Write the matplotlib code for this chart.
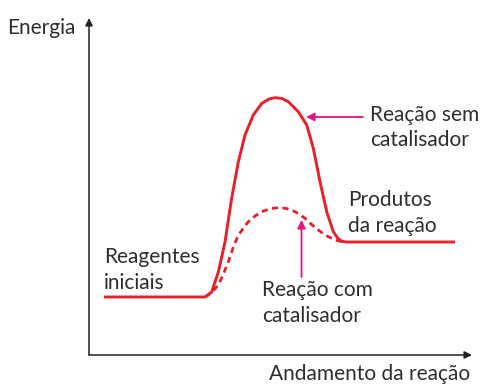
import matplotlib.pyplot as plt

plt.rcParams["font.family"] = ["Lato", "DejaVu Sans"]

# reaction progress vs energy (axis units, origin at the axes corner)
x_sem = [15, 116, 122.7, 129.3, 136, 142.7, 149.3, 156, 164.3, 172.7, 180, 186,
         193, 199.3, 209.3, 217.7, 224.3, 231, 237.7, 244.3, 249, 252.7, 257, 366]
e_sem = [58, 58, 63, 83, 113, 157, 193, 220, 240, 251.5, 256, 257.3,
         256.5, 253.3, 243.3, 230, 206.7, 173.3, 143.3, 123.3, 116.5, 113.8, 113, 113]

x_com = [116, 119.3, 124, 129.3, 134, 139.3, 144, 149.3, 159.3, 166, 172.7, 181,
         189.3, 196, 202.7, 209, 216, 222, 229.3, 236, 242.7, 248, 254]
e_com = [58, 60, 64, 70, 80, 93.3, 107, 120, 133.3, 139, 143.3, 146.3,
         147.3, 146.8, 145, 141.5, 136.7, 131, 125, 120, 116.7, 114.5, 113]

red = "#e8202a"
pink = "#e5157f"

fig = plt.figure(figsize=(4.81, 3.84), dpi=100)
ax = fig.add_axes([89 / 481, 29 / 384, 383 / 481, 337 / 384])
ax.set_xlim(0, 383)
ax.set_ylim(0, 337)
ax.axis("off")

ax.plot(x_sem, e_sem, color=red, lw=2.1, solid_capstyle="butt",
        solid_joinstyle="round", zorder=3)
ax.plot(x_com, e_com, color=red, lw=2.0, ls=(0, (2.2, 1.6)), zorder=2)

# axes arrows
ax.annotate("", xy=(0, 1), xytext=(0, 0), xycoords="axes fraction",
            arrowprops=dict(arrowstyle="-|>", color="#222222", lw=1.1,
                            mutation_scale=11, shrinkA=0, shrinkB=0))
ax.annotate("", xy=(1, 0), xytext=(0, 0), xycoords="axes fraction",
            arrowprops=dict(arrowstyle="-|>", color="#222222", lw=1.1,
                            mutation_scale=11, shrinkA=0, shrinkB=0))

fs = 15
tc = "#2e2e2e"
ls = 1.32
ax.text(-82, 327, "Energia", ha="left", va="center", fontsize=fs, color=tc, clip_on=False)
ax.text(381, -19.5, "Andamento da reação", ha="right", va="center", fontsize=fs,
        color=tc, clip_on=False)
ax.text(281, 227.5, "Reação sem\ncatalisador", ha="left", va="center", fontsize=fs,
        color=tc, linespacing=ls)
ax.text(259, 142, "Produtos\nda reação", ha="left", va="center", fontsize=fs,
        color=tc, linespacing=ls)
ax.text(15, 85, "Reagentes\niniciais", ha="left", va="center", fontsize=fs,
        color=tc, linespacing=ls)
ax.text(173, 52, "Reação com\ncatalisador", ha="left", va="center", fontsize=fs,
        color=tc, linespacing=ls)

# pointer arrows
ax.annotate("", xy=(217, 238), xytext=(274, 238),
            arrowprops=dict(arrowstyle="-|>", color=pink, lw=1.3,
                            mutation_scale=12, shrinkA=0, shrinkB=0))
ax.annotate("", xy=(212.5, 135), xytext=(212.5, 78),
            arrowprops=dict(arrowstyle="-|>", color=pink, lw=1.3,
                            mutation_scale=12, shrinkA=0, shrinkB=0))

fig.savefig("out.png", dpi=100)
